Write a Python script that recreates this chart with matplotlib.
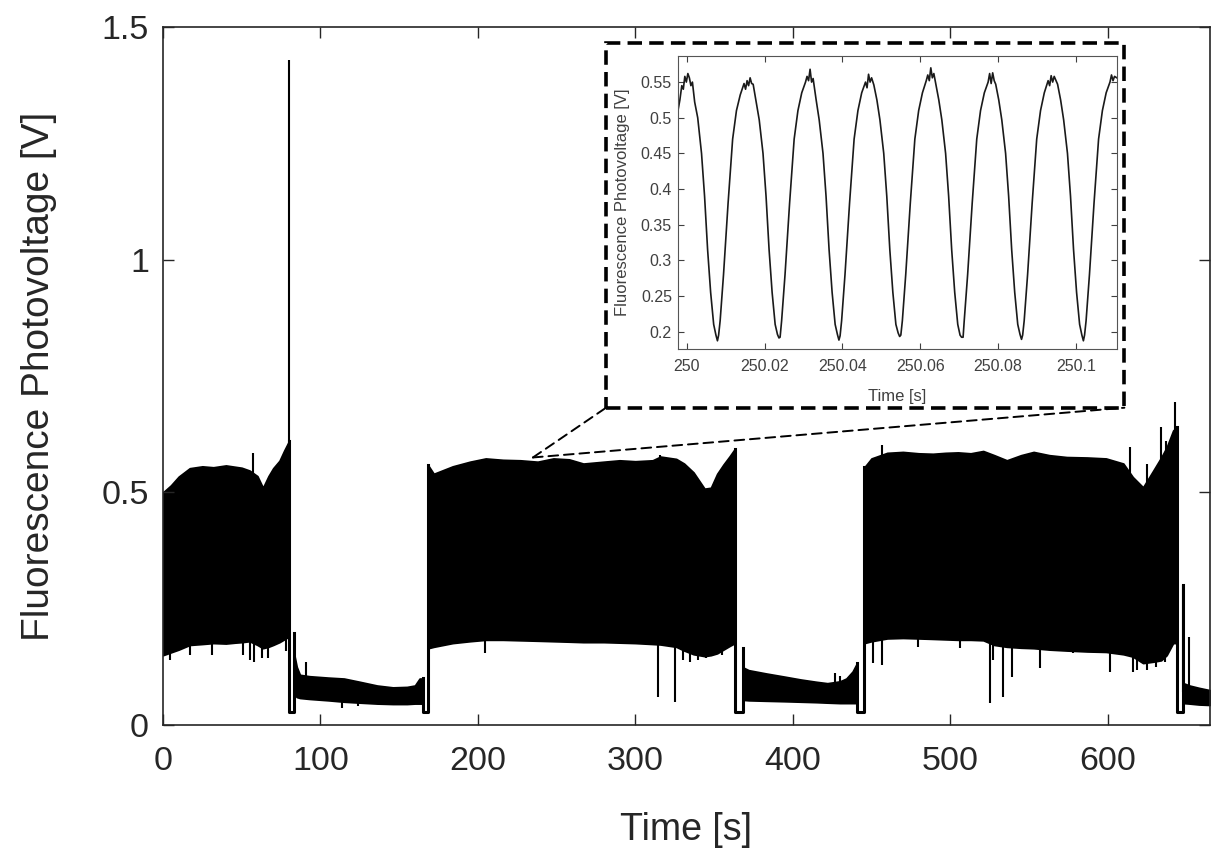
import numpy as np
import matplotlib.pyplot as plt
from matplotlib.patches import Rectangle, ConnectionPatch
from matplotlib.ticker import FormatStrFormatter

plt.rcParams['font.family'] = ['Liberation Sans', 'DejaVu Sans']
ink = '#262626'

# --- main trace: envelope of the dense 60 Hz signal, read per segment ---
seg1_t = [0, 5, 10, 17, 25, 32, 40, 46, 50, 55, 60, 63.5, 67, 70, 74, 77, 80]
seg1_hi = [0.50, 0.515, 0.534, 0.552, 0.556, 0.554, 0.558, 0.555, 0.553, 0.547, 0.535, 0.51, 0.535, 0.552, 0.568, 0.59, 0.61]
seg1_lo = [0.15, 0.156, 0.162, 0.172, 0.174, 0.176, 0.175, 0.177, 0.178, 0.18, 0.172, 0.165, 0.168, 0.172, 0.178, 0.184, 0.19]

seg2_t = [83.5, 85, 87, 93, 105, 115, 125, 136, 146, 155, 160, 163, 165]
seg2_hi = [0.15, 0.125, 0.108, 0.105, 0.102, 0.1, 0.093, 0.085, 0.081, 0.082, 0.085, 0.1, 0.1]
seg2_lo = [0.065, 0.06, 0.058, 0.056, 0.053, 0.05, 0.048, 0.046, 0.045, 0.045, 0.046, 0.046, 0.046]

seg3_t = [168.5, 172, 184, 195, 205, 216, 227, 238, 248, 258, 267, 280, 290, 300, 311, 316, 326, 331, 337, 344, 348, 352, 356, 360, 363.3]
seg3_hi = [0.558, 0.54, 0.556, 0.566, 0.573, 0.57, 0.569, 0.566, 0.573, 0.571, 0.562, 0.566, 0.569, 0.567, 0.569, 0.577, 0.572, 0.562, 0.543, 0.508, 0.51, 0.54, 0.56, 0.578, 0.594]
seg3_lo = [0.165, 0.168, 0.176, 0.18, 0.183, 0.183, 0.182, 0.181, 0.18, 0.179, 0.178, 0.178, 0.177, 0.176, 0.174, 0.173, 0.168, 0.16, 0.152, 0.148, 0.15, 0.154, 0.162, 0.17, 0.176]

seg4_t = [368.4, 372, 383, 395, 405, 415, 422, 430, 434, 438, 440.8]
seg4_hi = [0.124, 0.118, 0.111, 0.104, 0.098, 0.093, 0.09, 0.094, 0.1, 0.115, 0.133]
seg4_lo = [0.054, 0.053, 0.052, 0.051, 0.05, 0.049, 0.048, 0.047, 0.047, 0.047, 0.047]

seg5_t = [445.5, 450, 460, 470, 480, 489, 497, 505, 513, 521, 528, 536, 545, 553, 563, 574, 587, 599, 610, 616, 622.5, 629, 634, 637.5, 641.6, 643.8]
seg5_hi = [0.554, 0.573, 0.585, 0.587, 0.584, 0.583, 0.585, 0.586, 0.584, 0.589, 0.58, 0.569, 0.58, 0.587, 0.58, 0.576, 0.575, 0.573, 0.562, 0.533, 0.511, 0.547, 0.575, 0.597, 0.633, 0.64]
seg5_lo = [0.176, 0.18, 0.186, 0.187, 0.186, 0.185, 0.184, 0.183, 0.183, 0.182, 0.172, 0.168, 0.166, 0.165, 0.162, 0.16, 0.158, 0.157, 0.152, 0.147, 0.133, 0.136, 0.139, 0.15, 0.176, 0.176]

seg6_t = [648.2, 652, 658, 665]
seg6_hi = [0.09, 0.085, 0.08, 0.075]
seg6_lo = [0.047, 0.046, 0.044, 0.043]

# drop-outs between segments
dip_start = [80.0, 165.3, 363.3, 441.0, 643.8]
dip_end = [83.2, 168.4, 368.2, 445.5, 647.6]
dip_from = [0.61, 0.10, 0.594, 0.133, 0.64]
dip_to = [0.197, 0.558, 0.165, 0.554, 0.30]
dip_floor = 0.028

# isolated spikes
up_spk_t = [57, 80.2, 315.7, 456.4, 614, 625, 634, 637, 640.6, 642.7]
up_spk_v = [0.585, 1.43, 0.58, 0.601, 0.597, 0.56, 0.64, 0.61, 0.614, 0.694]
dn_spk_t = [4.4, 17, 31, 51, 55, 58, 63, 67, 78, 204.5, 314.4, 325, 330, 335, 340, 345, 355,
            451, 456.4, 479.6, 506, 525.2, 527.3, 533.5, 539, 557, 578, 601.5, 616, 618.6, 624.8, 631, 636.5]
dn_spk_v = [0.14, 0.15, 0.15, 0.15, 0.14, 0.135, 0.145, 0.143, 0.16, 0.154, 0.06, 0.05, 0.14, 0.135, 0.14, 0.145, 0.15,
            0.133, 0.13, 0.168, 0.165, 0.047, 0.14, 0.061, 0.104, 0.122, 0.155, 0.114, 0.114, 0.118, 0.118, 0.125, 0.135]
low_spk_t = [90.6, 113.5, 124, 426.8, 430, 648.2, 651.8]
low_spk_v = [0.135, 0.036, 0.04, 0.112, 0.105, 0.30, 0.19]

# --- inset: zoom on t = 250 s (time in ms after 250 s) ---
inset_ms = [-2.4, -1.75, -1.26, -0.87, -0.48, -0.09, 0.30, 0.69, 1.08, 1.47,
            2.05, 2.83, 3.81, 4.59, 5.37, 6.15, 6.93, 7.51, 7.90, 8.20,
            8.59, 9.46, 10.63, 11.80, 12.78, 13.75, 14.73, 15.12, 15.51, 15.90, 16.29, 16.68,
            17.07, 17.85, 18.63, 19.60, 20.38, 21.16, 21.94, 22.72, 23.31, 23.70, 23.99,
            24.38, 25.26, 26.43, 27.60, 28.57, 29.55, 30.52, 30.91, 31.30, 31.69, 32.08,
            32.47, 33.25, 34.03, 35.01, 35.79, 36.57, 37.35, 38.13, 38.71, 39.10, 39.40,
            39.79, 40.66, 41.83, 43.00, 43.98, 44.95, 45.93, 46.32, 46.71, 47.10, 47.49,
            48.07, 48.85, 49.63, 50.61, 51.39, 52.17, 52.95, 53.73, 54.31, 54.70, 55.00,
            55.39, 56.26, 57.43, 58.60, 59.58, 60.55, 61.53, 61.92, 62.31, 62.70, 63.09, 63.48,
            63.97, 64.75, 65.53, 66.50, 67.28, 68.06, 68.84, 69.62, 70.21, 70.60, 70.99,
            71.28, 72.16, 73.33, 74.50, 75.47, 76.45, 77.42, 77.81, 78.20, 78.59, 78.98,
            79.37, 80.15, 80.93, 81.91, 82.69, 83.47, 84.25, 85.03, 85.61, 86.00, 86.29,
            86.68, 87.56, 88.73, 89.90, 90.88, 91.85, 92.83, 93.22, 93.61, 94.00, 94.39,
            95.26, 96.04, 96.82, 97.80, 98.58, 99.36, 100.14, 100.92, 101.50, 101.89, 102.19,
            102.58, 103.45, 104.62, 105.79, 106.77, 107.74, 108.72, 109.11, 109.50, 109.89, 110.77]
inset_v = [0.505, 0.525, 0.545, 0.54, 0.558, 0.55, 0.562, 0.556, 0.545, 0.55,
           0.522, 0.5, 0.45, 0.39, 0.315, 0.255, 0.21, 0.195, 0.187, 0.195,
           0.215, 0.28, 0.38, 0.47, 0.51, 0.532, 0.548, 0.54, 0.552, 0.545, 0.556, 0.548,
           0.547, 0.522, 0.497, 0.45, 0.39, 0.315, 0.255, 0.21, 0.196, 0.191, 0.192,
           0.215, 0.28, 0.38, 0.47, 0.51, 0.535, 0.55, 0.558, 0.552, 0.568, 0.55,
           0.555, 0.525, 0.497, 0.45, 0.39, 0.315, 0.255, 0.21, 0.196, 0.188, 0.194,
           0.215, 0.28, 0.38, 0.47, 0.51, 0.535, 0.55, 0.542, 0.561, 0.55, 0.556,
           0.546, 0.525, 0.497, 0.45, 0.39, 0.315, 0.255, 0.21, 0.198, 0.193, 0.195,
           0.215, 0.28, 0.38, 0.47, 0.51, 0.535, 0.552, 0.56, 0.552, 0.570, 0.556, 0.562,
           0.548, 0.525, 0.497, 0.45, 0.39, 0.315, 0.255, 0.21, 0.195, 0.192, 0.192,
           0.215, 0.28, 0.38, 0.47, 0.51, 0.535, 0.55, 0.562, 0.548, 0.563, 0.552,
           0.547, 0.525, 0.497, 0.45, 0.39, 0.315, 0.255, 0.21, 0.196, 0.189, 0.195,
           0.215, 0.28, 0.38, 0.47, 0.51, 0.535, 0.552, 0.545, 0.559, 0.55, 0.558,
           0.547, 0.525, 0.497, 0.45, 0.39, 0.315, 0.255, 0.21, 0.195, 0.187, 0.195,
           0.215, 0.28, 0.38, 0.47, 0.51, 0.535, 0.55, 0.56, 0.552, 0.558, 0.555]
inset_xticks = [250, 250.02, 250.04, 250.06, 250.08, 250.1]
inset_yticks = [0.2, 0.25, 0.3, 0.35, 0.4, 0.45, 0.5, 0.55]
zoom_point = (235, 0.575)

fig = plt.figure(figsize=(12.17, 8.56), dpi=100)
ax = fig.add_axes([0.1339, 0.153, 0.8603, 0.8154])

segments = [(seg1_t, seg1_lo, seg1_hi), (seg2_t, seg2_lo, seg2_hi), (seg3_t, seg3_lo, seg3_hi),
            (seg4_t, seg4_lo, seg4_hi), (seg5_t, seg5_lo, seg5_hi), (seg6_t, seg6_lo, seg6_hi)]
for t, lo, hi in segments:
    ax.fill_between(t, lo, hi, color='k', edgecolor='k', linewidth=1.2)

ax.vlines(up_spk_t, 0.35, up_spk_v, color='k', lw=1.5)
ax.vlines(dn_spk_t, 0.35, dn_spk_v, color='k', lw=1.5)
ax.vlines(low_spk_t, 0.07, low_spk_v, color='k', lw=1.5)

for s, e, a, b in zip(dip_start, dip_end, dip_from, dip_to):
    ax.plot([s, s, e, e], [a, dip_floor, dip_floor, b], color='k', lw=2.2)

ax.set_xlim(0, 665)
ax.set_ylim(0, 1.5)
ax.set_xticks([0, 100, 200, 300, 400, 500, 600])
ax.set_yticks([0, 0.5, 1, 1.5])
ax.yaxis.set_major_formatter(FormatStrFormatter('%g'))
ax.tick_params(direction='in', top=True, right=True, length=8, width=1,
               labelsize=24.5, colors=ink)
ax.tick_params(axis='x', pad=15)
ax.tick_params(axis='y', pad=10)
for sp in ax.spines.values():
    sp.set_color(ink)
    sp.set_linewidth(1.2)
ax.set_xlabel('Time [s]', fontsize=27, color=ink, labelpad=25)
ax.set_ylabel('Fluorescence Photovoltage [V]', fontsize=28, color=ink, labelpad=32)

# dashed frame around the inset and the two leader lines
box_x, box_y, box_w, box_h = 0.498, 0.5237, 0.4259, 0.4255
fig.add_artist(Rectangle((box_x, box_y), box_w, box_h, transform=fig.transFigure,
                         fill=False, edgecolor='k', lw=2.6, ls=(0, (4, 2))))
for cx in (box_x, box_x + box_w):
    fig.add_artist(ConnectionPatch(xyA=zoom_point, coordsA=ax.transData,
                                   xyB=(cx, box_y), coordsB=fig.transFigure,
                                   color='k', lw=1.4, ls=(0, (5, 3))))

axi = fig.add_axes([0.5567, 0.5923, 0.3609, 0.3426])
axi.plot(250 + np.array(inset_ms) / 1000, inset_v, color='#1a1a1a', lw=1.2)
axi.set_xlim(249.99764, 250.11045)
axi.set_ylim(0.1755, 0.587)
axi.set_xticks(inset_xticks)
axi.set_yticks(inset_yticks)
axi.xaxis.set_major_formatter(FormatStrFormatter('%g'))
axi.yaxis.set_major_formatter(FormatStrFormatter('%g'))
axi.tick_params(direction='in', top=True, right=True, length=4, width=0.8,
                colors='#404040', labelsize=11.5)
axi.tick_params(axis='x', pad=7)
axi.tick_params(axis='y', pad=4)
for sp in axi.spines.values():
    sp.set_color('#555555')
    sp.set_linewidth(0.8)
axi.set_xlabel('Time [s]', fontsize=12, color='#404040', labelpad=11)
axi.set_ylabel('Fluorescence Photovoltage [V]', fontsize=12, color='#404040', labelpad=8)

fig.savefig('out.png', dpi=100)
